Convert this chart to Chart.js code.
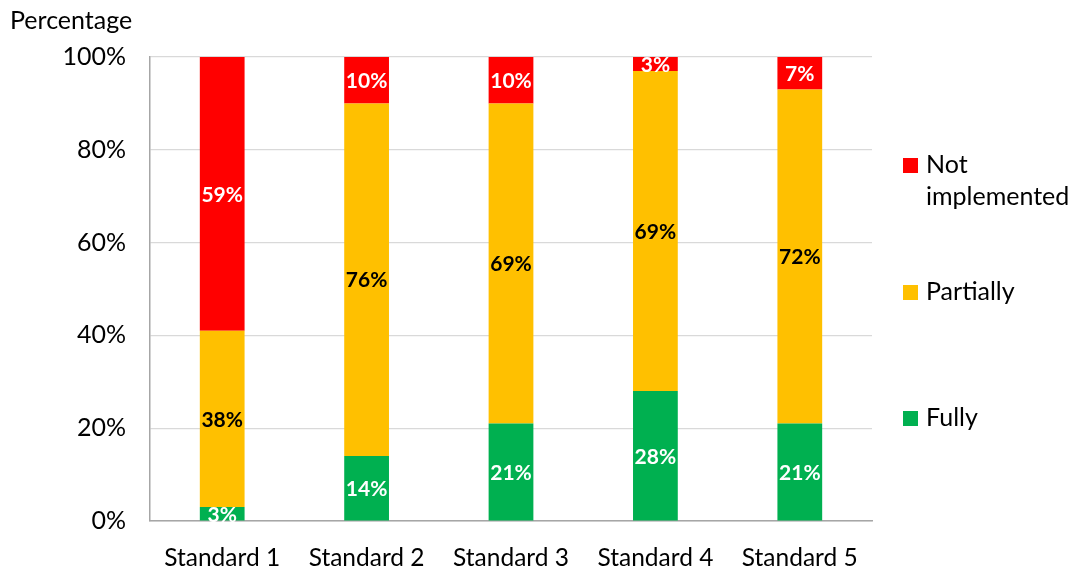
<!DOCTYPE html>
<html>
<head>
<meta charset="utf-8">
<script src="https://cdn.jsdelivr.net/npm/chart.js@4.4.0/dist/chart.umd.min.js"></script>
<style>
  body { margin: 0; background: #fff; }
  #wrap { width: 1077px; height: 569px; position: relative; }
</style>
</head>
<body>
<div id="wrap"><canvas id="myChart" width="1077" height="569"></canvas></div>
<script>
// chart values
const categories = ["Standard 1", "Standard 2", "Standard 3", "Standard 4", "Standard 5"];
const fully = [3, 14, 21, 28, 21];
const partially = [38, 76, 69, 69, 72];
const notImplemented = [59, 10, 10, 3, 7];
const yTicks = [0, 20, 40, 60, 80, 100];

const FONT = "Lato, 'Liberation Sans', sans-serif";

// value labels in the middle of each bar segment
const segmentLabels = {
  id: "segmentLabels",
  afterDatasetsDraw(chart) {
    const ctx = chart.ctx;
    ctx.save();
    ctx.font = "bold 21px " + FONT;
    ctx.textAlign = "center";
    ctx.textBaseline = "middle";
    chart.data.datasets.forEach((ds, i) => {
      const meta = chart.getDatasetMeta(i);
      meta.data.forEach((bar, j) => {
        ctx.fillStyle = ds.labelColor;
        ctx.fillText(ds.data[j] + "%", bar.x, (bar.y + bar.base) / 2 + 1);
      });
    });
    ctx.restore();
  }
};

// axis title and the spaced-out legend on the right
const extras = {
  id: "extras",
  afterDraw(chart) {
    const ctx = chart.ctx;
    ctx.save();
    ctx.fillStyle = "#000";
    ctx.font = "25px " + FONT;
    ctx.textBaseline = "middle";
    ctx.textAlign = "left";
    ctx.fillText("Percentage", 10, 21);

    const items = [
      { ds: 2, lines: ["Not", "implemented"], y: 165 },
      { ds: 1, lines: ["Partially"], y: 292 },
      { ds: 0, lines: ["Fully"], y: 418 }
    ];
    ctx.font = "25px " + FONT;
    items.forEach(it => {
      const ds = chart.data.datasets[it.ds];
      ctx.fillStyle = ds.backgroundColor;
      ctx.fillRect(903, it.y - 7, 15, 15);
      ctx.fillStyle = "#000";
      it.lines.forEach((t, k) => ctx.fillText(t, 926, it.y + k * 32));
    });
    ctx.restore();
  }
};

const ctx = document.getElementById("myChart").getContext("2d");
new Chart(ctx, {
  type: "bar",
  data: {
    labels: categories,
    datasets: [
      { label: "Fully", data: fully, backgroundColor: "#00B050", labelColor: "#fff" },
      { label: "Partially", data: partially, backgroundColor: "#FFC000", labelColor: "#000" },
      { label: "Not implemented", data: notImplemented, backgroundColor: "#FF0000", labelColor: "#fff" }
    ]
  },
  options: {
    responsive: false,
    animation: false,
    layout: { padding: { top: 57, right: 205, left: 0, bottom: 0 } },
    datasets: { bar: { categoryPercentage: 1, barPercentage: 0.31 } },
    plugins: { legend: { display: false }, tooltip: { enabled: false } },
    scales: {
      x: {
        stacked: true,
        grid: { display: false },
        border: { color: "#a6a6a6", width: 1.5 },
        ticks: { color: "#000", font: { family: FONT, size: 24.5 }, padding: 14 },
        afterFit(scale) { scale.height = 48; }
      },
      y: {
        stacked: true,
        min: 0,
        max: 100,
        afterBuildTicks(scale) { scale.ticks = yTicks.map(v => ({ value: v })); },
        grid: { color: "#d9d9d9", lineWidth: 1.2, drawTicks: false },
        border: { color: "#a6a6a6", width: 1.5 },
        ticks: {
          color: "#000",
          font: { family: FONT, size: 25 },
          padding: 24,
          callback: v => v + "%"
        },
        afterFit(scale) { scale.width = 150; }
      }
    }
  },
  plugins: [segmentLabels, extras]
});
</script>
</body>
</html>
